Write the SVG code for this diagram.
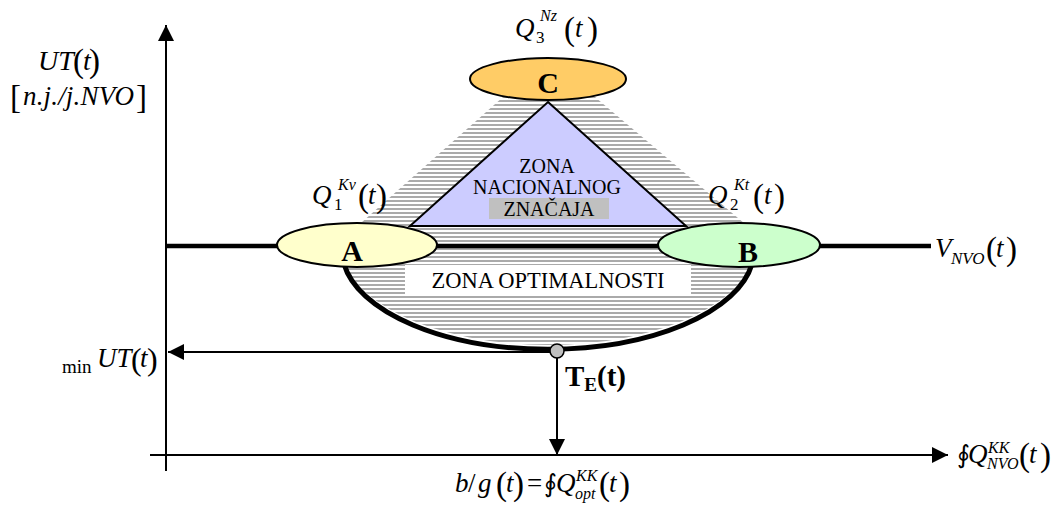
<svg xmlns="http://www.w3.org/2000/svg" width="1054" height="505" viewBox="0 0 1054 505">
<style>
.mi{font-family:"Liberation Serif","DejaVu Serif",serif;font-style:italic;fill:#000}
.rm{font-family:"Liberation Serif","DejaVu Serif",serif;font-style:normal;fill:#000}
.bd{font-family:"Liberation Serif","DejaVu Serif",serif;font-weight:bold;fill:#000}
.ax{stroke:#000;stroke-width:2;fill:none}
.node{stroke:#000;stroke-width:2}
</style>
<defs>
<pattern id="hatch" width="6" height="4" patternUnits="userSpaceOnUse">
<rect width="6" height="2" fill="#aaaaaa"/>
</pattern>
<marker id="arr" viewBox="0 0 16 16" refX="16" refY="8" markerWidth="16" markerHeight="16" markerUnits="userSpaceOnUse" orient="auto">
<path d="M0,0 L16,8 L0,16 Z" fill="#000"/>
</marker>
</defs>
<rect width="1054" height="505" fill="#fff"/>

<g id="zones">
<path d="M503,97 L595,97 L771,246 L754,246 A206,99 0 0 1 342,246 L335,246 Z" fill="url(#hatch)"/>
<g id="zone-nacionalnog">
<polygon points="548,102 686,226 410,226" fill="#ccccff" stroke="#000" stroke-width="2"/>
<rect x="489" y="198" width="120" height="21" fill="#c0c0c0"/>
<text class="rm" font-size="20" text-anchor="middle" x="547" y="173">ZONA</text>
<text class="rm" font-size="20" text-anchor="middle" x="547" y="194">NACIONALNOG</text>
<text class="rm" font-size="20" text-anchor="middle" x="549" y="216">ZNAČAJA</text>
</g>
<line x1="166" y1="246" x2="931" y2="246" stroke="#000" stroke-width="4.5"/>
<path d="M344,264 A206,99 0 0 0 752,264" fill="none" stroke="#000" stroke-width="5"/>
<g id="zone-optimalnosti">
<rect x="405" y="265" width="286" height="29" fill="#fff"/>
<text class="rm" font-size="22.5" text-anchor="middle" x="548" y="288">ZONA OPTIMALNOSTI</text>
</g>
</g>

<g id="node-A">
<ellipse cx="357" cy="245" rx="80" ry="22" fill="#ffffcc" class="node"/>
<text class="bd" font-size="30" text-anchor="middle" x="352" y="261">A</text>
</g>
<g id="node-B">
<ellipse cx="739" cy="245" rx="81" ry="22" fill="#ccffcc" class="node"/>
<text class="bd" font-size="30" text-anchor="middle" x="748" y="262">B</text>
</g>
<g id="node-C">
<ellipse cx="548" cy="79" rx="78" ry="21" fill="#ffcc66" class="node"/>
<text class="bd" font-size="30" text-anchor="middle" x="548" y="93">C</text>
</g>

<g id="connectors">
<line class="ax" x1="166" y1="471" x2="166" y2="25" marker-end="url(#arr)"/>
<line class="ax" x1="150" y1="455" x2="948" y2="455" marker-end="url(#arr)"/>
<line class="ax" x1="550" y1="352" x2="168" y2="352" marker-end="url(#arr)"/>
<line class="ax" x1="557" y1="357" x2="557" y2="455" marker-end="url(#arr)"/>
</g>

<g id="node-TE">
<circle cx="557" cy="351" r="7" fill="#c0c0c0" stroke="#000" stroke-width="1.5"/>
<text class="bd" font-size="29" x="565" y="386">T<tspan font-size="19" y="391">E</tspan><tspan y="386">(t)</tspan></text>
</g>

<g id="labels">
<text class="mi" font-size="28" x="38" y="70">UT<tspan class="rm" font-size="33" x="73" y="72">(</tspan><tspan x="83" y="70">t</tspan><tspan class="rm" font-size="33" x="89" y="72">)</tspan></text>
<text class="rm" font-size="33" x="10" y="108">[<tspan class="mi" font-size="27" x="23" y="105" textLength="111">n.j./j.NVO</tspan><tspan x="136" y="108">]</tspan></text>

<text class="mi" font-size="27" x="515" y="37">Q<tspan class="rm" font-size="17" x="536" y="43">3</tspan><tspan font-size="16" x="540" y="21">Nz</tspan><tspan class="rm" font-size="33" x="564" y="40">(</tspan><tspan x="575" y="37">t</tspan><tspan class="rm" font-size="33" x="587" y="40">)</tspan></text>

<text class="mi" font-size="27" x="312" y="204">Q<tspan class="rm" font-size="17" x="334" y="210">1</tspan><tspan font-size="16" x="338" y="190">Kv</tspan><tspan class="rm" font-size="33" x="358" y="207">(</tspan><tspan x="368" y="204">t</tspan><tspan class="rm" font-size="33" x="376" y="207">)</tspan></text>

<text class="mi" font-size="27" x="708" y="204">Q<tspan class="rm" font-size="17" x="730" y="210">2</tspan><tspan font-size="16" x="734" y="190">Kt</tspan><tspan class="rm" font-size="33" x="753" y="207">(</tspan><tspan x="764" y="204">t</tspan><tspan class="rm" font-size="33" x="774" y="207">)</tspan></text>

<text class="mi" font-size="27" x="935" y="257">V<tspan font-size="17" x="951" y="264">NVO</tspan><tspan class="rm" font-size="33" x="986" y="260">(</tspan><tspan x="996" y="257">t</tspan><tspan class="rm" font-size="33" x="1006" y="260">)</tspan></text>

<text class="rm" font-size="19" x="62" y="373">min<tspan class="mi" font-size="27" x="97" y="367">UT</tspan><tspan font-size="32" x="131" y="370">(</tspan><tspan class="mi" font-size="27" x="140" y="367">t</tspan><tspan font-size="32" x="147" y="370">)</tspan></text>

<text class="mi" font-size="27" x="957" y="463"><tspan class="rm" font-size="25">∮</tspan><tspan x="968">Q</tspan><tspan font-size="16" x="988" y="453">KK</tspan><tspan font-size="16" x="987" y="469">NVO</tspan><tspan class="rm" font-size="33" x="1019" y="466">(</tspan><tspan x="1029" y="463">t</tspan><tspan class="rm" font-size="33" x="1040" y="466">)</tspan></text>

<text class="mi" font-size="27" x="455" y="492">b<tspan class="rm" x="468">/</tspan><tspan x="478">g</tspan><tspan class="rm" font-size="33" x="496" y="495">(</tspan><tspan x="506" y="492">t</tspan><tspan class="rm" font-size="33" x="513" y="495">)</tspan><tspan class="rm" x="527" y="492">=</tspan><tspan class="rm" font-size="25" x="544">∮</tspan><tspan x="556">Q</tspan><tspan font-size="16" x="576" y="481">KK</tspan><tspan font-size="16" x="575" y="499">opt</tspan><tspan class="rm" font-size="33" x="599" y="495">(</tspan><tspan x="609" y="492">t</tspan><tspan class="rm" font-size="33" x="619" y="495">)</tspan></text>
</g>
</svg>
